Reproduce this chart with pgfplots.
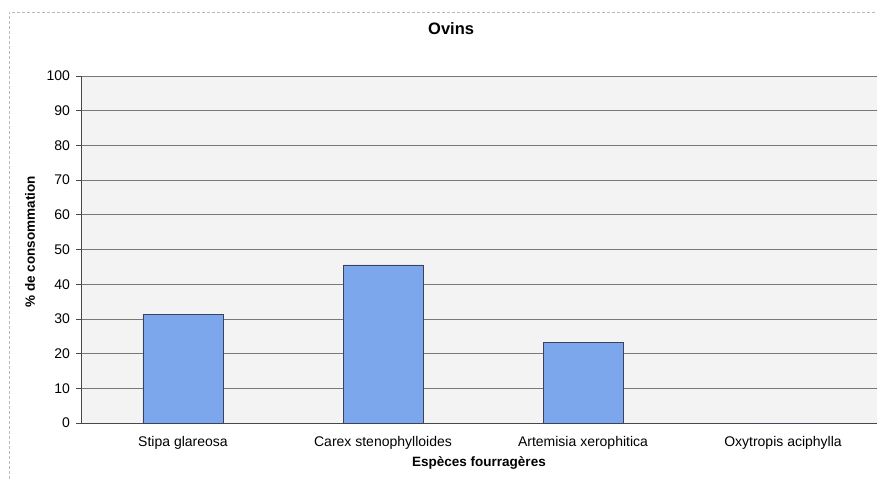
\documentclass[border=0pt]{standalone}
\usepackage{pgfplots}
\pgfplotsset{compat=1.18}
\usepackage{fontspec}
\setmainfont{Liberation Sans}
\definecolor{barfill}{RGB}{125,167,236}
\definecolor{barline}{RGB}{60,66,90}
\definecolor{plotbg}{RGB}{243,243,243}
\definecolor{gridc}{RGB}{120,120,120}
\begin{document}
\begin{tikzpicture}
% fixed page frame, axis box south-west corner at the origin
\path[use as bounding box] (-81pt,-56pt) rectangle (796pt,423pt);
% outer chart frame (dashed)
\draw[gray!55, dash pattern=on 3pt off 2pt, line width=0.5pt]
  (-72pt,-56pt) -- (-72pt,411pt) -- (796pt,411pt);
\begin{axis}[
  at={(0pt,0pt)}, anchor=south west,
  scale only axis,
  width=796pt, height=347pt,
  ybar, bar width=80pt,
  xmin=-0.51, xmax=3.47,
  ymin=0, ymax=100,
  ytick={0,10,...,100},
  xtick=data,
  xticklabels={Stipa glareosa, Carex stenophylloides, Artemisia xerophitica, Oxytropis aciphylla},
  major x tick style={draw=none},
  ytick style={gridc!60!black, line width=0.6pt},
  tick align=outside,
  major tick length=4.5pt,
  ymajorgrids,
  grid style={gridc, line width=0.6pt},
  axis background/.style={fill=plotbg},
  axis x line*=bottom, axis y line*=left,
  axis line style={gridc!60!black, line width=0.7pt, -},
  /pgf/number format/assume math mode=true,
  tick label style={font=\fontsize{14}{16}\selectfont},
  yticklabel style={xshift=-3pt},
  xticklabel style={yshift=-5pt},
  title={\textbf{Ovins}},
  title style={font=\fontsize{16.5}{19}\selectfont, at={(0.465,1.118)}, anchor=center},
  xlabel={\textbf{Espèces fourragères}},
  xlabel style={font=\fontsize{13.5}{16}\selectfont, at={(0.5,-0.115)}, anchor=center},
  ylabel={\textbf{\% de consommation}},
  ylabel style={font=\fontsize{13.5}{16}\selectfont, at={(-0.064,0.522)}, anchor=center},
  clip=false,
]
\addplot[fill=barfill, draw=barline, line width=0.5pt]
  coordinates {(0,31.2) (1,45.6) (2,23.2) (3,0)};
\end{axis}
\end{tikzpicture}
\end{document}
